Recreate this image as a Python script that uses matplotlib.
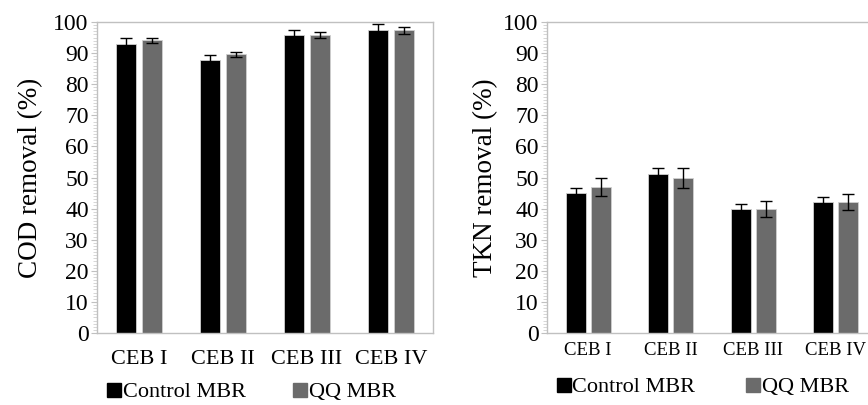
import matplotlib
matplotlib.use("Agg")
import matplotlib.pyplot as plt
import numpy as np
from matplotlib.ticker import MultipleLocator
from matplotlib.lines import Line2D
from matplotlib.font_manager import FontProperties

categories = ["CEB I", "CEB II", "CEB III", "CEB IV"]
series_names = ["Control MBR", "QQ MBR"]

cod_control = [93.0, 87.7, 95.8, 97.4]
cod_control_err = [1.8, 1.6, 1.6, 1.9]
cod_qq = [94.1, 89.6, 95.8, 97.3]
cod_qq_err = [0.8, 0.8, 1.0, 1.2]

tkn_control = [45.0, 51.1, 40.0, 42.1]
tkn_control_err = [1.6, 2.0, 1.6, 1.6]
tkn_qq = [46.9, 49.8, 40.0, 42.1]
tkn_qq_err = [3.0, 3.3, 2.6, 2.6]

yticks = list(range(0, 101, 10))

SERIF = ['Liberation Serif', 'DejaVu Serif']
plt.rcParams['font.family'] = SERIF

fig = plt.figure(figsize=(8.68, 4.05), dpi=100)
ax1 = fig.add_axes([97/868, 1-333/405, 336/868, 311/405])
ax2 = fig.add_axes([547/868, 1-333/405, 330/868, 311/405])

BLACK = "#000000"
GREY = "#6b6b6b"
EDGE = "#d0d0d0"
FRAME = "#c0c0c0"

def draw(ax, c, ce, q, qe, ylabel, xfs, xpad, lpad, leg_anchor, colsp):
    x = np.arange(len(categories))
    w = 0.24
    ax.bar(x - 0.15, c, w, color=BLACK, edgecolor=EDGE, linewidth=0.6, zorder=2)
    ax.bar(x + 0.15, q, w, color=GREY, edgecolor=EDGE, linewidth=0.6, zorder=2)
    ax.errorbar(x - 0.15, c, yerr=ce, fmt='none', ecolor='black', elinewidth=1.0,
                capsize=4, capthick=1.0, zorder=3)
    ax.errorbar(x + 0.15, q, yerr=qe, fmt='none', ecolor='black', elinewidth=1.0,
                capsize=4, capthick=1.0, zorder=3)
    ax.set_xlim(-0.5, len(categories) - 0.5)
    ax.set_ylim(0, 100)
    ax.set_yticks(yticks)
    ax.set_yticklabels([str(v) for v in yticks], fontsize=17, family=SERIF)
    ax.yaxis.set_minor_locator(MultipleLocator(1))
    ax.set_xticks(x)
    ax.set_xticklabels(categories, fontsize=xfs, family=SERIF)
    ax.tick_params(axis='x', length=0, pad=xpad)
    ax.tick_params(axis='y', which='major', length=4, color=FRAME, pad=2)
    ax.tick_params(axis='y', which='minor', length=3, color="#d0d0d0", width=0.6)
    for s in ax.spines.values():
        s.set_color(FRAME)
        s.set_linewidth(1.0)
    ax.set_ylabel(ylabel, fontsize=19.5, labelpad=lpad, family=SERIF)
    handles = [Line2D([0], [0], marker='s', linestyle='none', markersize=10,
                      markerfacecolor=col, markeredgecolor=col)
               for col in (BLACK, GREY)]
    ax.legend(handles, series_names, loc='center left', bbox_to_anchor=leg_anchor,
              ncol=2, frameon=False, prop=FontProperties(family=SERIF, size=16),
              handlelength=0.6, handletextpad=0.1, columnspacing=colsp,
              borderaxespad=0, borderpad=0)

draw(ax1, cod_control, cod_control_err, cod_qq, cod_qq_err,
     "COD removal (%)", 16, 12, 7, (0.03, -0.19), 2.15)
draw(ax2, tkn_control, tkn_control_err, tkn_qq, tkn_qq_err,
     "TKN removal (%)", 13.5, 6.5, 4, (0.03, -0.174), 2.3)

fig.savefig("out.png", dpi=100)
